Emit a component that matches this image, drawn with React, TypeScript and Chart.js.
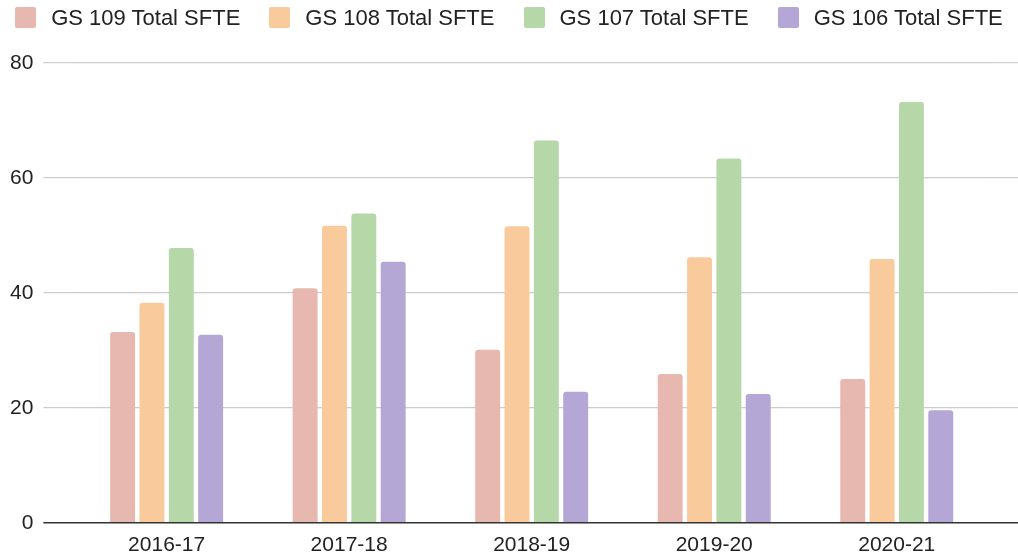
import React, { useEffect, useRef } from "react";
import { Chart, registerables } from "chart.js";

Chart.register(...registerables);

const categories = ["2016-17", "2017-18", "2018-19", "2019-20", "2020-21"];
const gs109 = [33.2, 40.8, 30.1, 25.9, 25.0];
const gs108 = [38.3, 51.7, 51.6, 46.2, 45.9];
const gs107 = [47.8, 53.8, 66.5, 63.4, 73.2];
const gs106 = [32.7, 45.4, 22.8, 22.4, 19.6];
const seriesNames = ["GS 109 Total SFTE", "GS 108 Total SFTE", "GS 107 Total SFTE", "GS 106 Total SFTE"];
const seriesColors = ["#e6b8af", "#f9cb9c", "#b6d7a8", "#b4a7d6"];
const yTicks = [0, 20, 40, 60, 80];

const FONT = "'Liberation Sans', Arial, sans-serif";

export default function App() {
  const ref = useRef<HTMLCanvasElement>(null);
  useEffect(() => {
    document.body.style.margin = "0";
    const values = [gs109, gs108, gs107, gs106];
    const gridColor = (c: any) => (c.tick && c.tick.value === 0 ? "#333333" : "#cccccc");
    const gridWidth = (c: any) => (c.tick && c.tick.value === 0 ? 1.5 : 1.2);
    const chart = new Chart(ref.current!, {
      type: "bar",
      data: {
        labels: categories,
        datasets: seriesNames.map((n, i) => ({
          label: n,
          data: values[i],
          backgroundColor: seriesColors[i],
          borderRadius: 3,
          borderSkipped: "bottom",
          categoryPercentage: 0.643,
          barPercentage: 0.85,
          yAxisID: "y",
        })),
      },
      options: {
        animation: false,
        responsive: false,
        layout: { padding: { top: 63, left: 0, right: 0, bottom: 0 } },
        plugins: { legend: { display: false }, tooltip: { enabled: false } },
        scales: {
          x: {
            grid: { display: false },
            border: { display: false },
            ticks: { color: "#222222", font: { family: FONT, size: 21 }, padding: 2 },
          },
          y: {
            position: "left",
            min: 0,
            max: 80,
            afterBuildTicks: (s: any) => { s.ticks = yTicks.map((v) => ({ value: v })); },
            grid: { color: gridColor, tickColor: gridColor, tickLength: 32, lineWidth: gridWidth },
            border: { display: false },
            ticks: { color: "#222222", font: { family: FONT, size: 21 }, padding: 10 },
          },
          y2: {
            position: "right",
            min: 0,
            max: 80,
            afterBuildTicks: (s: any) => { s.ticks = yTicks.map((v) => ({ value: v })); },
            grid: { drawOnChartArea: false, color: gridColor, tickColor: gridColor, tickLength: 30, lineWidth: gridWidth },
            border: { display: false },
            ticks: { display: false },
          },
        },
      },
    });
    return () => chart.destroy();
  }, []);

  return (
    <div style={{ position: "relative", width: 1018, height: 560, background: "#ffffff" }}>
      <canvas ref={ref} width={1018} height={560} style={{ position: "absolute", left: 0, top: 0 }} />
      <div
        style={{
          position: "absolute",
          left: 0,
          top: 0,
          width: 1018,
          height: 35,
          display: "flex",
          justifyContent: "center",
          alignItems: "center",
          gap: 29,
          fontFamily: FONT,
          fontSize: 22,
          color: "#222222",
        }}
      >
        {seriesNames.map((n, i) => (
          <div key={n} style={{ display: "flex", alignItems: "center" }}>
            <span style={{ display: "inline-block", width: 21, height: 21, borderRadius: 2, background: seriesColors[i], marginRight: 15 }} />
            <span>{n}</span>
          </div>
        ))}
      </div>
    </div>
  );
}
